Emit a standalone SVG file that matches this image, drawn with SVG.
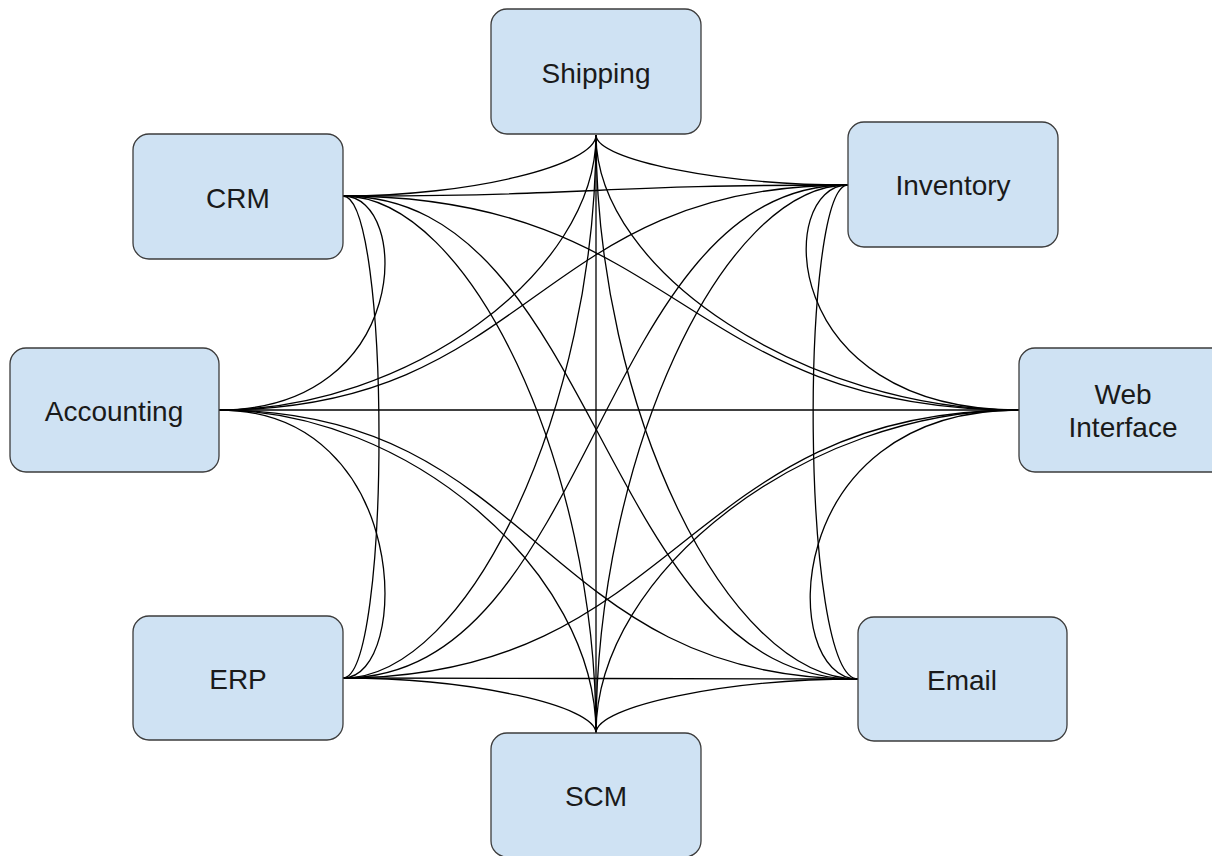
<svg xmlns="http://www.w3.org/2000/svg" width="1212" height="856" viewBox="0 0 1212 856">
<style>
.box{fill:#cfe2f3;stroke:#3c3c3c;stroke-width:1.3}
.lbl{font-family:"Liberation Sans",Arial,sans-serif;font-size:28px;fill:#1a1a1a;text-anchor:middle}
.c path{fill:none;stroke:#000;stroke-width:1.3}
</style>
<rect width="1212" height="856" fill="#fff"/>
<g id="connectors" class="c">
<path d="M596,135 L596,733"/>
<path d="M219,410 L1019,410"/>
<path d="M343,678 C600.5,678 600.5,679 858,679"/>
<path d="M343,196 C595.5,196 595.5,185 848,185"/>
<path d="M596,135 C596,165.5 469.5,196 343,196"/>
<path d="M596,135 C596,160 722,185 848,185"/>
<path d="M596,135 C596,272.5 407.5,410 219,410"/>
<path d="M596,135 C596,272.5 807.5,410 1019,410"/>
<path d="M596,135 C596,406.5 469.5,678 343,678"/>
<path d="M596,135 C596,407 727,679 858,679"/>
<path d="M596,733 C596,464.5 469.5,196 343,196"/>
<path d="M596,733 C596,459 722,185 848,185"/>
<path d="M596,733 C596,571.5 407.5,410 219,410"/>
<path d="M596,733 C596,571.5 807.5,410 1019,410"/>
<path d="M596,733 C596,705.5 469.5,678 343,678"/>
<path d="M596,733 C596,706 727,679 858,679"/>
<path d="M343,196 C681,196 681,410 1019,410"/>
<path d="M343,196 C600.5,196 600.5,679 858,679"/>
<path d="M219,410 C533.5,410 533.5,185 848,185"/>
<path d="M219,410 C538.5,410 538.5,679 858,679"/>
<path d="M343,678 C595.5,678 595.5,185 848,185"/>
<path d="M343,678 C681,678 681,410 1019,410"/>
<path d="M343,196 C412,196 412,410 219,410"/>
<path d="M343,196 C391,196 391,678 343,678"/>
<path d="M219,410 C412,410 412,678 343,678"/>
<path d="M848,185 C776,185 776,410 1019,410"/>
<path d="M848,185 C800,185 800,679 858,679"/>
<path d="M1019,410 C778,410 778,679 858,679"/>
</g>
<g id="shipping"><rect class="box" x="491" y="9" width="210" height="125" rx="16"/><text class="lbl" x="596" y="83">Shipping</text></g>
<g id="crm"><rect class="box" x="133" y="134" width="210" height="125" rx="16"/><text class="lbl" x="238" y="208">CRM</text></g>
<g id="inventory"><rect class="box" x="848" y="122" width="210" height="125" rx="16"/><text class="lbl" x="953" y="195">Inventory</text></g>
<g id="accounting"><rect class="box" x="10" y="348" width="209" height="124" rx="16"/><text class="lbl" x="114" y="421">Accounting</text></g>
<g id="web-interface"><rect class="box" x="1019" y="348" width="210" height="124" rx="16"/><text class="lbl" x="1123" y="404">Web</text><text class="lbl" x="1123" y="437">Interface</text></g>
<g id="erp"><rect class="box" x="133" y="616" width="210" height="124" rx="16"/><text class="lbl" x="238" y="689">ERP</text></g>
<g id="email"><rect class="box" x="858" y="617" width="209" height="124" rx="16"/><text class="lbl" x="962" y="690">Email</text></g>
<g id="scm"><rect class="box" x="491" y="733" width="210" height="124" rx="16"/><text class="lbl" x="596" y="806">SCM</text></g>
</svg>
